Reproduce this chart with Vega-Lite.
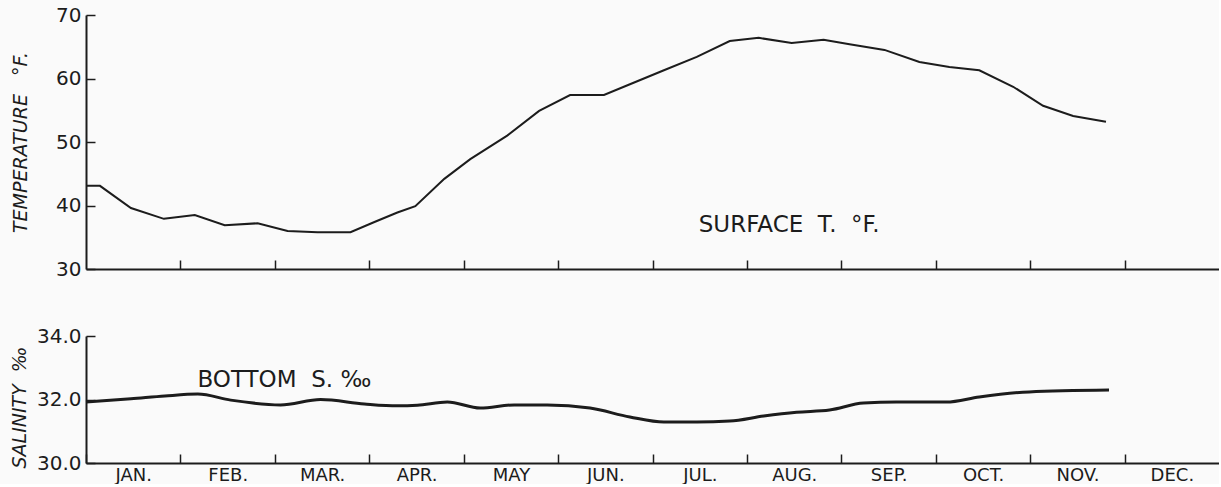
{
  "$schema": "https://vega.github.io/schema/vega-lite/v6.json",
  "background": "#fafafa",
  "padding": {"left": 10, "top": 5, "right": 0, "bottom": 0},
  "spacing": 67,
  "bounds": "flush",
  "config": {
    "view": {"stroke": null},
    "font": "DejaVu Sans",
    "axis": {
      "labelFont": "DejaVu Sans",
      "labelColor": "#1c1c1c",
      "labelFontSize": 20,
      "domainColor": "#1c1c1c",
      "domainWidth": 2,
      "tickColor": "#1c1c1c",
      "tickWidth": 1.5,
      "grid": false,
      "titleFont": "DejaVu Sans",
      "titleFontStyle": "italic",
      "titleFontWeight": "normal",
      "titleFontSize": 19,
      "titleColor": "#1c1c1c"
    }
  },
  "datasets": {
    "temp": [
      {"month": 0, "temp": 43.1},
      {"month": 0.148, "temp": 43.1},
      {"month": 0.476, "temp": 39.6},
      {"month": 0.825, "temp": 37.9},
      {"month": 1.152, "temp": 38.5},
      {"month": 1.469, "temp": 36.9},
      {"month": 1.818, "temp": 37.2},
      {"month": 2.135, "temp": 36.0},
      {"month": 2.452, "temp": 35.8},
      {"month": 2.801, "temp": 35.8},
      {"month": 3.055, "temp": 37.4},
      {"month": 3.298, "temp": 38.9},
      {"month": 3.488, "temp": 39.9},
      {"month": 3.795, "temp": 44.2},
      {"month": 4.07, "temp": 47.3},
      {"month": 4.461, "temp": 51.0},
      {"month": 4.799, "temp": 54.9},
      {"month": 5.127, "temp": 57.4},
      {"month": 5.486, "temp": 57.4},
      {"month": 5.761, "temp": 59.1},
      {"month": 6.121, "temp": 61.3},
      {"month": 6.469, "temp": 63.4},
      {"month": 6.818, "temp": 65.9},
      {"month": 7.125, "temp": 66.4},
      {"month": 7.474, "temp": 65.6},
      {"month": 7.812, "temp": 66.1},
      {"month": 8.087, "temp": 65.4},
      {"month": 8.457, "temp": 64.5},
      {"month": 8.827, "temp": 62.6},
      {"month": 9.144, "temp": 61.8},
      {"month": 9.461, "temp": 61.3},
      {"month": 9.82, "temp": 58.7},
      {"month": 10.137, "temp": 55.7},
      {"month": 10.455, "temp": 54.1},
      {"month": 10.803, "temp": 53.2}
    ],
    "sal": [
      {"month": 0, "sal": 31.92},
      {"month": 0.476, "sal": 32.02},
      {"month": 0.835, "sal": 32.11},
      {"month": 1.184, "sal": 32.17},
      {"month": 1.533, "sal": 31.98},
      {"month": 2.061, "sal": 31.83},
      {"month": 2.484, "sal": 32.0},
      {"month": 2.949, "sal": 31.86},
      {"month": 3.298, "sal": 31.8},
      {"month": 3.51, "sal": 31.82},
      {"month": 3.827, "sal": 31.92},
      {"month": 4.175, "sal": 31.73},
      {"month": 4.535, "sal": 31.83},
      {"month": 4.884, "sal": 31.83},
      {"month": 5.338, "sal": 31.73},
      {"month": 5.761, "sal": 31.45},
      {"month": 6.121, "sal": 31.29},
      {"month": 6.469, "sal": 31.29},
      {"month": 6.818, "sal": 31.32},
      {"month": 7.178, "sal": 31.48},
      {"month": 7.526, "sal": 31.6},
      {"month": 7.875, "sal": 31.67},
      {"month": 8.235, "sal": 31.89},
      {"month": 8.584, "sal": 31.92},
      {"month": 9.112, "sal": 31.92},
      {"month": 9.461, "sal": 32.08},
      {"month": 9.989, "sal": 32.24},
      {"month": 10.835, "sal": 32.3}
    ],
    "tlabel": [{"month": 6.49, "value": 36.9, "text": "SURFACE\u00a0\u00a0T.\u00a0\u00a0°F."}],
    "slabel": [{"month": 1.18, "value": 32.62, "text": "BOTTOM\u00a0\u00a0S.\u00a0‰"}]
  },
  "vconcat": [
    {
      "width": 1133,
      "height": 254,
      "layer": [
        {
          "data": {"name": "temp"},
          "mark": {"type": "line", "color": "#1c1c1c", "strokeWidth": 2},
          "encoding": {
            "x": {"field": "month", "type": "quantitative", "scale": {"domain": [0, 12], "nice": false},
              "axis": {"title": null, "values": [1,2,3,4,5,6,7,8,9,10,11], "labels": false, "tickSize": -9}},
            "y": {"field": "temp", "type": "quantitative", "scale": {"domain": [30, 70], "nice": false, "zero": false},
              "axis": {"title": "TEMPERATURE\u00a0\u00a0\u00a0°F.", "values": [30,40,50,60,70], "format": "d", "tickSize": -9, "labelPadding": 14, "titleX": -56}}
          }
        },
        {
          "data": {"name": "tlabel"},
          "mark": {"type": "text", "align": "left", "baseline": "middle", "fontSize": 23, "font": "DejaVu Sans", "color": "#1c1c1c"},
          "encoding": {
            "x": {"field": "month", "type": "quantitative"},
            "y": {"field": "value", "type": "quantitative"},
            "text": {"field": "text"}
          }
        }
      ]
    },
    {
      "width": 1133,
      "height": 127,
      "layer": [
        {
          "data": {"name": "sal"},
          "mark": {"type": "line", "color": "#1c1c1c", "strokeWidth": 3, "interpolate": "monotone"},
          "encoding": {
            "x": {"field": "month", "type": "quantitative", "scale": {"domain": [0, 12], "nice": false},
              "axis": {"title": null, "values": [0,1,2,3,4,5,6,7,8,9,10,11], "tickSize": -9, "labelPadding": 12, "labelFontSize": 18, "labelOffset": 47.3,
                "labelFlush": false, "labelOverlap": false, "labelBound": false,
                "labelExpr": "['JAN.','FEB.','MAR.','APR.','MAY','JUN.','JUL.','AUG.','SEP.','OCT.','NOV.','DEC.'][datum.value]"}},
            "y": {"field": "sal", "type": "quantitative", "scale": {"domain": [30, 34], "nice": false, "zero": false},
              "axis": {"title": "SALINITY\u00a0\u00a0‰", "values": [30, 32, 34], "format": ".1f", "tickSize": -9, "labelPadding": 14, "titleX": -57, "titleY": 71}}
          }
        },
        {
          "data": {"name": "slabel"},
          "mark": {"type": "text", "align": "left", "baseline": "middle", "fontSize": 23, "font": "DejaVu Sans", "color": "#1c1c1c"},
          "encoding": {
            "x": {"field": "month", "type": "quantitative"},
            "y": {"field": "value", "type": "quantitative"},
            "text": {"field": "text"}
          }
        }
      ]
    }
  ]
}
